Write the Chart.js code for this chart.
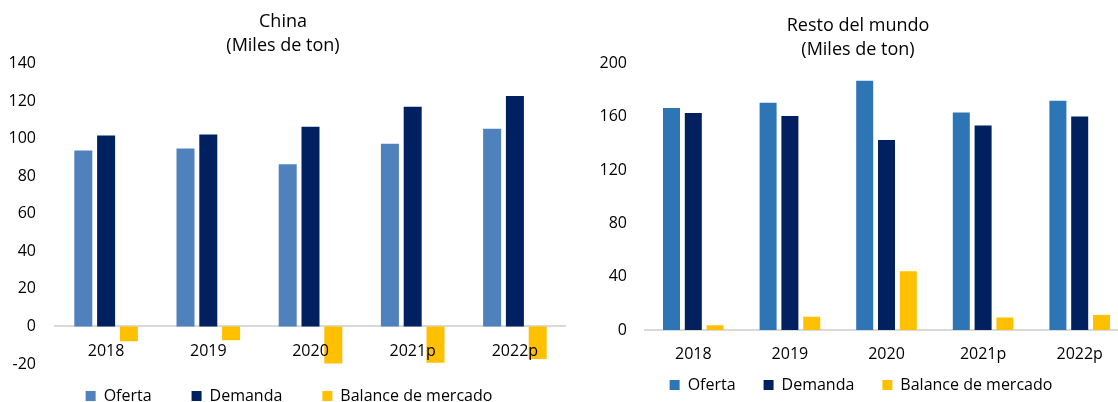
<!DOCTYPE html>
<html>
<head>
<meta charset="utf-8">
<script src="https://cdn.jsdelivr.net/npm/chart.js"></script>
<style>
html, body { margin: 0; padding: 0; background: #fff; overflow: hidden; width: 1118px; height: 402px; }
#left { position: absolute; left: 0; top: 0; width: 566px; height: 430px; }
#right { position: absolute; left: 588px; top: 0; width: 540px; height: 402px; }
</style>
</head>
<body>
<div id="left"><canvas id="china"></canvas></div>
<div id="right"><canvas id="resto"></canvas></div>
<script>
var years = ['2018', '2019', '2020', '2021p', '2022p'];
var seriesNames = ['Oferta', 'Demanda', 'Balance de mercado'];

var chinaOferta = [93.7, 94.7, 86.3, 97.3, 105.3];
var chinaDemanda = [101.6, 102.2, 106.3, 117.0, 122.7];
var chinaBalance = [-7.9, -7.4, -19.8, -19.4, -17.3];
var chinaTicks = [-20, 0, 20, 40, 60, 80, 100, 120, 140];

var restoOferta = [166.5, 170.5, 187.0, 163.2, 172.0];
var restoDemanda = [162.8, 160.5, 142.5, 153.5, 160.2];
var restoBalance = [3.5, 10.0, 44.0, 9.3, 11.2];
var restoTicks = [0, 40, 80, 120, 160, 200];

Chart.defaults.font.family = "'Open Sans', sans-serif";
Chart.defaults.color = '#000';

// moves the legend box after layout so item spacing and gap can differ
var offsetLegend = {
    id: 'offsetLegend',
    afterLayout: function(chart, args, opts){
        var lg = chart.legend;
        lg.top += opts.dy; lg.bottom += opts.dy;
        lg.left += opts.dx; lg.right += opts.dx;
    }
};

function makeChart(id, o){
    var ticks = o.ticks;
    return new Chart(document.getElementById(id), {
        type: 'bar',
        data: {
            labels: years,
            datasets: [
                {label: seriesNames[0], data: o.oferta, backgroundColor: o.ofertaColor},
                {label: seriesNames[1], data: o.demanda, backgroundColor: '#002060'},
                {label: seriesNames[2], data: o.balance, backgroundColor: '#FFC000'}
            ]
        },
        options: {
            responsive: true,
            maintainAspectRatio: false,
            animation: false,
            layout: {padding: {bottom: o.padBottom}},
            datasets: {bar: {categoryPercentage: o.cat, barPercentage: o.bar}},
            scales: {
                x: {
                    position: {y: 0},
                    grid: {display: false, drawTicks: false},
                    border: {display: true, color: '#d9d9d9', width: 2},
                    ticks: {font: {size: 16}, padding: 15, z: 1, maxRotation: 0, autoSkip: false}
                },
                y: {
                    min: ticks[0],
                    max: ticks[ticks.length - 1],
                    ticks: {stepSize: ticks[1] - ticks[0], font: {size: 16}, padding: o.yPad},
                    grid: {display: false, drawTicks: false},
                    border: {display: false},
                    afterFit: function(s){ s.width = o.yWidth; }
                }
            },
            plugins: {
                title: {
                    display: true,
                    text: o.title,
                    color: '#000',
                    font: {size: 18, weight: 'normal', lineHeight: 1.36},
                    padding: o.titlePad
                },
                legend: {
                    position: 'bottom',
                    labels: {boxWidth: 10, boxHeight: 10, padding: o.legendPad, font: {size: 16}}
                },
                tooltip: {enabled: false},
                offsetLegend: {dx: o.legendDx, dy: o.legendDy}
            }
        },
        plugins: [offsetLegend]
    });
}

makeChart('china', {
    title: ['China', '(Miles de ton)'],
    oferta: chinaOferta, demanda: chinaDemanda, balance: chinaBalance,
    ofertaColor: '#4F81BD', ticks: chinaTicks,
    cat: 0.669, bar: 0.79,
    yWidth: 55, yPad: 19,
    titlePad: {top: 9.5, bottom: 5},
    padBottom: 0, legendPad: 40, legendDx: 6, legendDy: -16
});

makeChart('resto', {
    title: ['Resto del mundo', '(Miles de ton)'],
    oferta: restoOferta, demanda: restoDemanda, balance: restoBalance,
    ofertaColor: '#2E75B6', ticks: restoTicks,
    cat: 0.677, bar: 0.78,
    yWidth: 57, yPad: 18,
    titlePad: {top: 13.5, bottom: 1},
    padBottom: 18, legendPad: 28, legendDx: 3, legendDy: 19
});
</script>
</body>
</html>
